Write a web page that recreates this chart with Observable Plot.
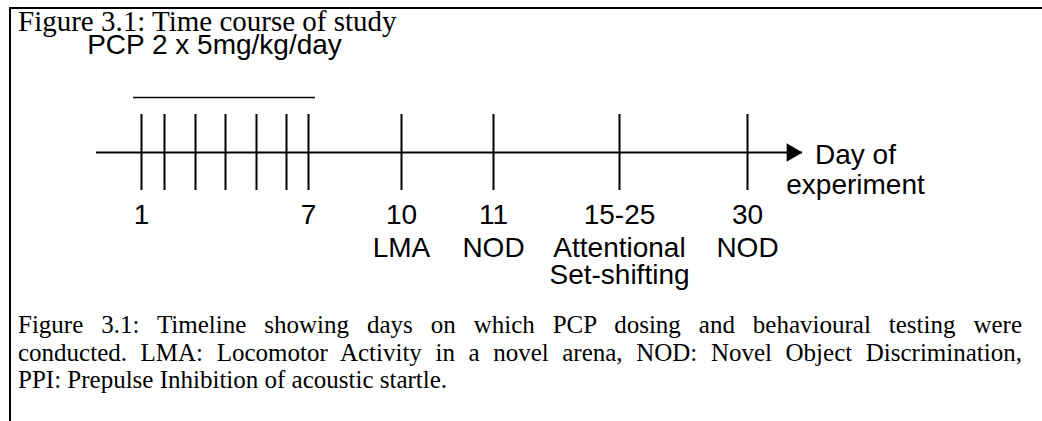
<!DOCTYPE html>
<html>
<head>
<meta charset="utf-8">
<script src="https://cdn.jsdelivr.net/npm/d3@7"></script>
<script src="https://cdn.jsdelivr.net/npm/@observablehq/plot@0.6"></script>
<style>
  html, body { margin: 0; padding: 0; background: #fff; }
  body { width: 1042px; height: 421px; overflow: hidden; position: relative; color: #000; }
  #frame { position: absolute; left: 9px; top: 7px; width: 1033px; height: 414px;
           border-top: 2px solid #000; border-left: 2px solid #000; box-sizing: border-box;
           pointer-events: none; z-index: 2; }
  #title { position: relative; z-index: 1; height: 23px; padding-top: 7px; padding-left: 18px;
           font: 29px/29px "Liberation Serif", "Times New Roman", serif; white-space: nowrap; }
  #chart svg { display: block; }
  #caption { margin-top: 11px; margin-left: 18px; width: 1004px;
             font: 25px/27.5px "Liberation Serif", "Times New Roman", serif; }
  #caption .j { text-align: justify; text-align-last: justify; }
</style>
</head>
<body>
<div id="frame"></div>
<div id="title">Figure 3.1: Time course of study</div>
<div id="chart"></div>
<div id="caption">
  <div class="j">Figure 3.1: Timeline showing days on which PCP dosing and behavioural testing were</div>
  <div class="j">conducted. LMA: Locomotor Activity in a novel arena, NOD: Novel Object Discrimination,</div>
  <div>PPI: Prepulse Inhibition of acoustic startle.</div>
</div>
<script>
// ---- data ----
const dosingDays = [1, 2, 3, 4, 5, 6, 7];
const testDays = [10, 11, 20, 30];            // 20 stands for the 15-25 block
const numberDays = [1, 7, 10, 11, 20, 30];
const numberLabels = ["1", "7", "10", "11", "15-25", "30"];
const testLabels = ["LMA", "NOD", "Attentional\nSet-shifting", "NOD"];
const dosingLabel = "PCP 2 x 5mg/kg/day";
const dosingStart = 1, dosingEnd = 7, dosingMid = 4;
const axisStart = 0, axisEnd = 32;
const axisLabel = "Day of\nexperiment";

const numbers = numberDays.map((d, i) => ({day: d, label: numberLabels[i]}));
const tests = testDays.map((d, i) => ({day: d, label: testLabels[i]}));
const ticks = dosingDays.concat(testDays);

const font = "Liberation Sans, Arial, Helvetica, sans-serif";

const chart = Plot.plot({
  width: 1042,
  height: 270,
  margin: 0,
  style: {background: "transparent", overflow: "visible"},
  x: {
    type: "linear", axis: null,
    // schematic (non-proportional) timeline, piecewise
    domain: [0, 1, 2, 3, 4, 5, 6, 7, 10, 11, 20, 30, 32],
    range: [96, 141, 164, 195, 225, 256, 286, 308, 401, 493, 619, 747, 802]
  },
  y: {type: "linear", axis: null, domain: [-1, 1], range: [160, 84]},
  marks: [
    Plot.ruleY([0], {x1: axisStart, x2: axisEnd, stroke: "#000", strokeWidth: 2}),
    Plot.dot([axisEnd], {x: d => d, y: 0, symbol: "triangle", r: 6.8, rotate: 90,
      fill: "#000", stroke: "none", dx: -10.6}),
    Plot.ruleX(ticks, {x: d => d, y1: -1, y2: 1, stroke: "#000", strokeWidth: 2}),
    Plot.ruleY([1], {x1: dosingStart, x2: dosingEnd, dy: -17, insetLeft: -8, insetRight: -7,
      stroke: "#000", strokeWidth: 1.6}),
    Plot.text([dosingLabel], {x: dosingMid, y: 1, text: d => d, dx: -11, dy: -61,
      lineAnchor: "bottom", fontSize: 28, fontFamily: font, fill: "#000"}),
    Plot.text(numbers, {x: "day", y: -1, text: "label", dy: 33, lineAnchor: "bottom",
      fontSize: 28, fontFamily: font, fill: "#000"}),
    Plot.text(tests, {x: "day", y: -1, text: "label", dy: 47, lineAnchor: "top",
      lineHeight: 0.964, fontSize: 28, fontFamily: font, fill: "#000"}),
    Plot.text([axisLabel], {x: axisEnd, y: 0, text: d => d, dx: 53, dy: -10, lineAnchor: "top",
      lineHeight: 1.071, fontSize: 28, fontFamily: font, fill: "#000"})
  ]
});
document.getElementById("chart").appendChild(chart);
</script>
</body>
</html>
